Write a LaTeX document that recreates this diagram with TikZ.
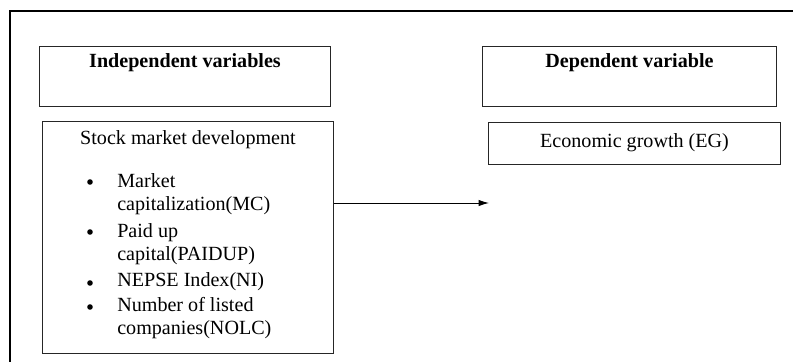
\documentclass[tikz,border=0pt]{standalone}
\usepackage{fontspec}
\setmainfont{Liberation Serif}
\usetikzlibrary{arrows.meta}

\tikzset{
    varbox/.style={draw=black!85, line width=0.7pt, minimum width=7.25cm, align=center, inner sep=0pt},
    listtext/.style={anchor=base west, inner sep=0pt},
    listdot/.style={circle, fill=black, inner sep=0pt, minimum size=0.14cm},
}

\begin{document}
\begin{tikzpicture}[x=0.025cm, y=-0.025cm, font=\fontsize{14.3}{17}\selectfont]
    \useasboundingbox (0,0) rectangle (793,362);
    \draw[line width=1.4pt] (793,11) -- (10,11) -- (10,362);

    \node[varbox, minimum height=1.5cm] (indep) at (185,76) {\textbf{Independent variables}\\ \strut};
    \node[varbox, minimum height=1.5cm, minimum width=7.325cm] (dep) at (629.5,76) {\textbf{Dependent variable}\\ \strut};

    \node[varbox, minimum height=5.775cm] (stock) at (188,237.5) {};
    \node (stocktitle) at (188,140) {Stock market development};
    \foreach \y/\t [count=\i] in {187/Market, 210/capitalization(MC), 237/Paid up, 260/capital(PAIDUP),
        286/NEPSE Index(NI), 311/Number of listed, 334/companies(NOLC)}
        \node[listtext] (line\i) at (117,\y) {\t};
    \foreach \y [count=\i] in {182,232,283,307}
        \node[listdot] (dot\i) at (90,\y) {};

    \node[varbox, minimum height=1.05cm, minimum width=7.275cm] (econ) at (634.5,143) {Economic growth (EG)};

    \coordinate (arrowend) at (489,203);
    \draw[-{Latex[length=2.6mm,width=1.6mm]}, line width=0.7pt] (stock.east |- arrowend) -- (arrowend);
\end{tikzpicture}
\end{document}
